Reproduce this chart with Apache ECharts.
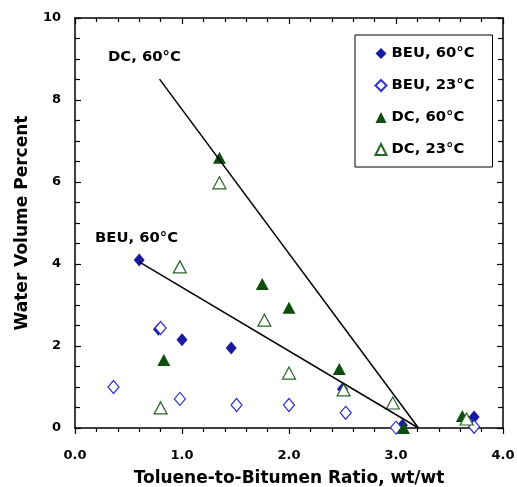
<!DOCTYPE html>
<html><head><meta charset="utf-8">
<script src="https://cdn.jsdelivr.net/npm/echarts@6/dist/echarts.min.js"></script>
<style>html,body{margin:0;padding:0;background:#fff}#c{width:517px;height:487px}</style>
</head><body><div id="c"></div>
<script>
// Data: [toluene-to-bitumen ratio, water volume %]
const beu60 = [[0.60,4.10],[0.78,2.41],[1.00,2.15],[1.46,1.95],[2.50,0.95],[3.06,0.07],[3.73,0.27]];
const beu23 = [[0.36,1.00],[0.80,2.44],[0.98,0.71],[1.51,0.56],[2.00,0.56],[2.53,0.37],[3.00,0.01],[3.73,0.03]];
const dc60  = [[1.35,6.59],[1.75,3.51],[2.00,2.93],[0.83,1.66],[2.47,1.44],[3.07,0.00],[3.62,0.29]];
const dc23  = [[1.35,5.98],[0.98,3.93],[1.77,2.63],[2.00,1.34],[0.80,0.49],[2.51,0.93],[2.97,0.61],[3.66,0.22]];
const dcLine  = [[0.79,8.51],[3.21,0]];
const beuLine = [[0.60,4.05],[3.21,0]];
const seriesNames = ['BEU, 60°C','BEU, 23°C','DC, 60°C','DC, 23°C'];
const xTitle = 'Toluene-to-Bitumen Ratio, wt/wt';
const yTitle = 'Water Volume Percent';
const annotations = [{text:'DC, 60°C', x:108, y:57}, {text:'BEU, 60°C', x:95, y:238}];

const navy = '#1a1aa0', blue = '#3030cc', green = '#0d4d0d', green2 = '#2a662a';
const font = '"DejaVu Sans", Verdana, sans-serif';
const chart = echarts.init(document.getElementById('c'));
const axLine = {show:true, onZero:false, lineStyle:{color:'#000', width:1.5}};
const tickStyle = {color:'#000', width:1.2};
chart.setOption({
  animation:false,
  grid:{left:75, right:14, top:18, bottom:59, containLabel:false, outerBoundsMode:'none'},
  legend:{
    orient:'vertical', left:355, top:35,
    padding:[11,18,10,19.5], itemGap:17,
    borderColor:'#000', borderWidth:1, backgroundColor:'#fff',
    itemWidth:11, itemHeight:11,
    textStyle:{fontFamily:font, fontWeight:'bold', fontSize:14.8, lineHeight:14, color:'#000'},
    data:seriesNames
  },
  xAxis:[{
    type:'value', min:0, max:4, interval:1,
    name:xTitle, nameLocation:'middle', nameGap:42,
    nameTextStyle:{fontFamily:font, fontWeight:'bold', fontSize:17, color:'#000'},
    axisLine:axLine,
    axisTick:{show:true, inside:false, length:6, lineStyle:tickStyle},
    minorTick:{show:true, splitNumber:5, length:4, lineStyle:tickStyle},
    axisLabel:{fontFamily:font, fontWeight:'bold', fontSize:13, color:'#000', margin:21,
      formatter:v=>v.toFixed(1)},
    splitLine:{show:false}
  },{
    type:'value', position:'top', min:0, max:4, interval:1,
    axisLine:axLine,
    axisTick:{show:true, inside:true, length:6, lineStyle:tickStyle},
    minorTick:{show:true, splitNumber:5, length:4, lineStyle:tickStyle},
    axisLabel:{show:false}, splitLine:{show:false}
  }],
  yAxis:[{
    type:'value', min:0, max:10, interval:2,
    name:yTitle, nameLocation:'middle', nameGap:44,
    nameTextStyle:{fontFamily:font, fontWeight:'bold', fontSize:17, color:'#000'},
    axisLine:axLine,
    axisTick:{show:true, inside:true, length:6, lineStyle:tickStyle},
    minorTick:{show:true, splitNumber:4, length:5, lineStyle:tickStyle},
    axisLabel:{fontFamily:font, fontWeight:'bold', fontSize:13, color:'#000', margin:14},
    splitLine:{show:false}
  },{
    type:'value', position:'right', min:0, max:10, interval:2,
    axisLine:axLine,
    axisTick:{show:true, inside:true, length:6, lineStyle:tickStyle},
    minorTick:{show:true, splitNumber:4, length:5, lineStyle:tickStyle},
    axisLabel:{show:false}, splitLine:{show:false}
  }],
  graphic: annotations.map(a => ({type:'text', x:a.x, y:a.y,
    style:{text:a.text, font:'bold 14.8px '+font, fill:'#000', verticalAlign:'middle'}})),
  series:[
    {name:seriesNames[0], type:'scatter', data:beu60, symbol:'diamond', symbolSize:[11,13],
      itemStyle:{color:navy, opacity:1}},
    {name:seriesNames[1], type:'scatter', data:beu23, symbol:'diamond', symbolSize:[11,13],
      itemStyle:{color:'#fff', borderColor:blue, borderWidth:1.2, opacity:1}},
    {name:seriesNames[2], type:'scatter', data:dc60, symbol:'triangle', symbolSize:[13,12],
      itemStyle:{color:green, opacity:1}},
    {name:seriesNames[3], type:'scatter', data:dc23, symbol:'triangle', symbolSize:[13,12],
      itemStyle:{color:'#fff', borderColor:green2, borderWidth:1.2, opacity:1}},
    {type:'line', data:dcLine, symbol:'none', lineStyle:{color:'#000', width:1.5}, z:5, silent:true},
    {type:'line', data:beuLine, symbol:'none', lineStyle:{color:'#000', width:1.5}, z:5, silent:true}
  ]
});
</script></body></html>
